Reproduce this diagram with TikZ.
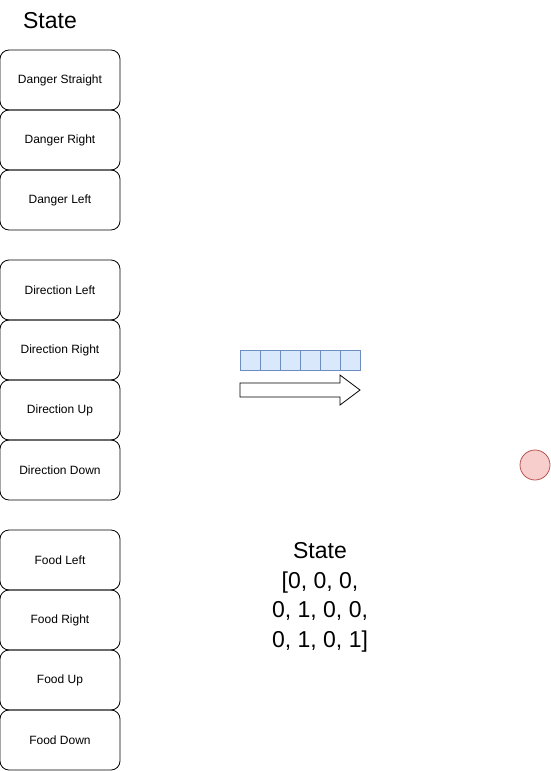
\documentclass[tikz,border=0pt]{standalone}
\usepackage{fontspec}
\setmainfont{Liberation Sans}
\usetikzlibrary{positioning}

\definecolor{cellfill}{HTML}{DAE8FC}
\definecolor{celldraw}{HTML}{6C8EBF}
\definecolor{dotfill}{HTML}{F8CECC}
\definecolor{dotdraw}{HTML}{B85450}

\tikzset{
  statebox/.style={draw,rounded corners=9pt,line width=0.8pt,minimum width=120pt,
    minimum height=60pt,inner sep=0pt,font=\fontsize{12}{14}\selectfont},
  cell/.style={draw=celldraw,fill=cellfill,line width=0.7pt,minimum width=20pt,
    minimum height=20pt,inner sep=0pt},
  bigtext/.style={font=\fontsize{23}{29.5}\selectfont,align=center}
}

\begin{document}
\begin{tikzpicture}[x=1pt,y=-1pt]
\useasboundingbox (0,0) rectangle (551,771);

\node[bigtext] (title) at (50,21) {State};

% danger
\node[statebox] (dstraight) at (60,80) {Danger Straight};
\node[statebox] (dright) at (60,140) {Danger Right};
\node[statebox] (dleft) at (60,200) {Danger Left};

% direction
\node[statebox] (dirleft) at (60,290) {Direction Left};
\node[statebox] (dirright) at (60,350) {Direction Right};
\node[statebox] (dirup) at (60,410) {Direction Up};
\node[statebox] (dirdown) at (60,470) {Direction Down};

% food
\node[statebox] (fleft) at (60,560) {Food Left};
\node[statebox] (fright) at (60,620) {Food Right};
\node[statebox] (fup) at (60,680) {Food Up};
\node[statebox] (fdown) at (60,740) {Food Down};

% vector cells
\node[cell] (cella) at (250,360) {};
\node[cell] (cellb) at (270,360) {};
\node[cell] (cellc) at (290,360) {};
\node[cell] (celld) at (310,360) {};
\node[cell] (celle) at (330,360) {};
\node[cell] (cellf) at (350,360) {};

\draw[line width=0.8pt] (240,383) -- (340,383) -- (340,375) -- (360,390)
  -- (340,405) -- (340,397) -- (240,397) -- cycle;

\node[circle,draw=dotdraw,fill=dotfill,line width=0.8pt,minimum size=30pt,inner sep=0pt]
  (food) at (535,465) {};

\node[bigtext,anchor=north] (statevec) at (320,539)
  {State\\ {[}0, 0, 0,\\ 0, 1, 0, 0,\\ 0, 1, 0, 1{]}};
\end{tikzpicture}
\end{document}
